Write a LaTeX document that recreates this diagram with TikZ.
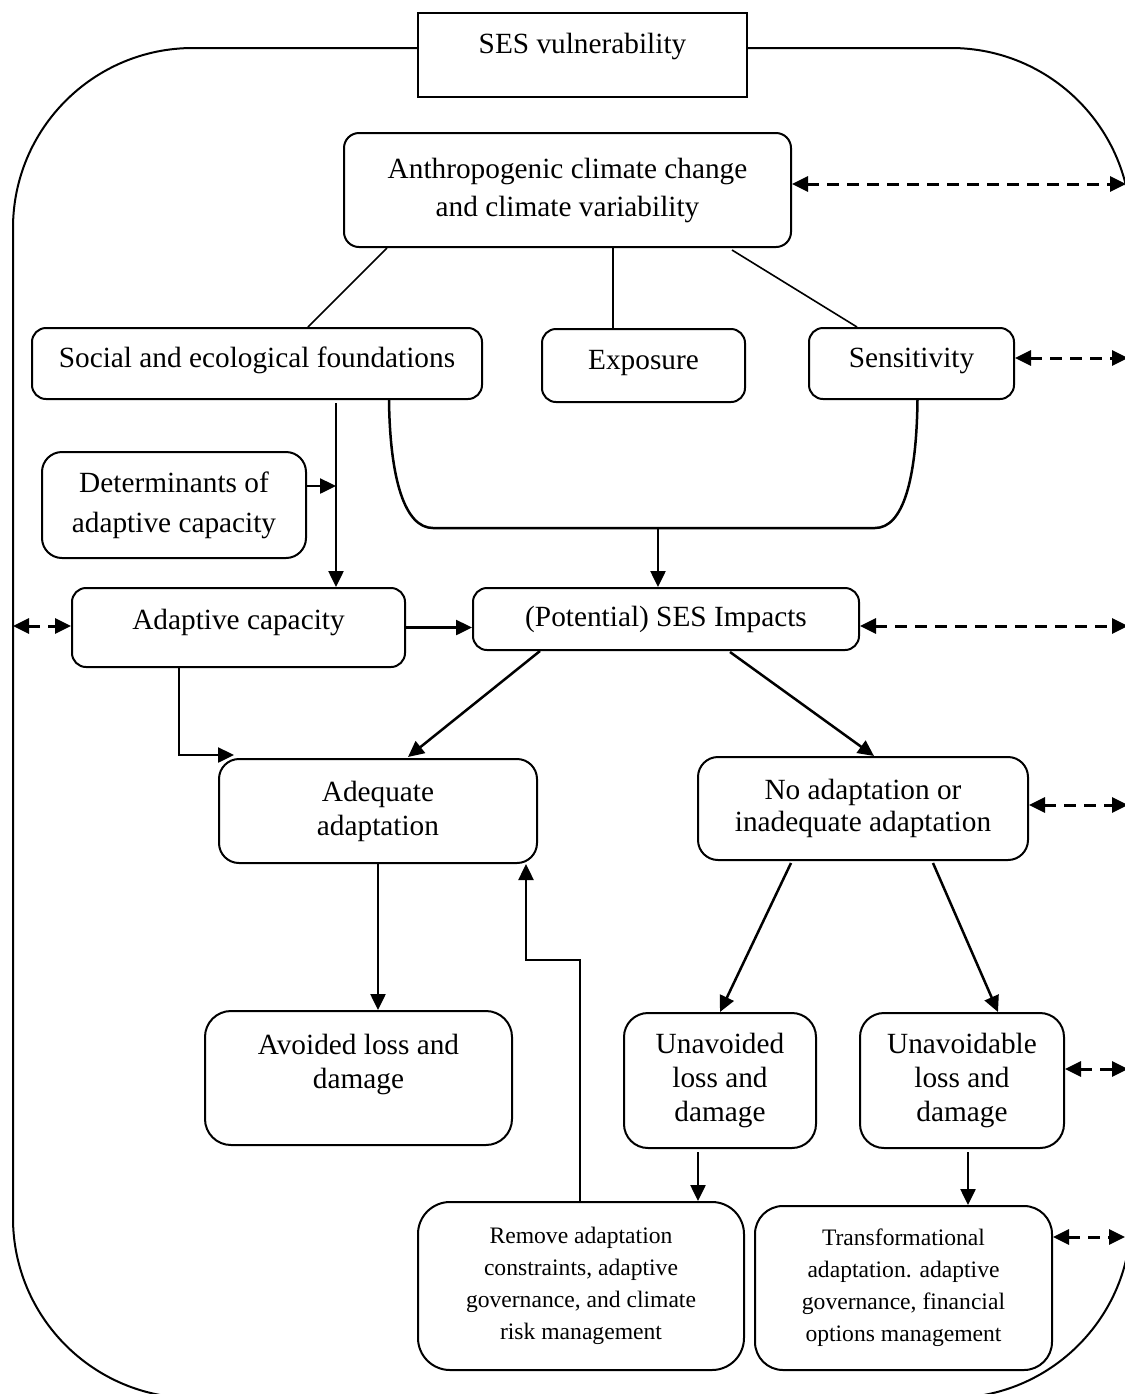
\documentclass[tikz,border=0pt]{standalone}
\usepackage{fontspec}
\setmainfont{Liberation Serif}
\usetikzlibrary{arrows.meta,calc}

\newcommand\boxfont{\fontsize{14.65pt}{17pt}\selectfont}
\newcommand\notefont{\fontsize{11.8pt}{16pt}\selectfont}

\tikzset{
  box/.style={draw, line width=1pt, rounded corners=#1, inner sep=0pt,
              align=center, font=\boxfont},
  box/.default=7pt,
  sz/.style 2 args={minimum width=#1*0.5pt, minimum height=#2*0.5pt},
  tip/.tip={Triangle[length=8pt,width=7.5pt]},
  arr/.style={line width=1.25pt, -tip},
  dasharr/.style={line width=1.5pt, dash pattern=on 6pt off 4pt, tip-tip},
  link/.style={line width=0.8pt},
  frame/.style={line width=1pt, rounded corners=90pt}
}

\begin{document}
\begin{tikzpicture}[x=0.5pt, y=-0.5pt]
\useasboundingbox (0,0) rectangle (1125,1394);
\clip (0,0) rectangle (1125,1394);

% outer system boundary
\draw[frame] (13,48) rectangle (1131,1398);

% boxes
\node[box=0pt, fill=white, sz={329}{84}, text depth=12pt] (ses) at (582.5,55) {SES vulnerability};
\node[box=7.5pt, sz={447}{114}] (acc) at (567.5,190) {Anthropogenic climate change\\[2pt]and climate variability};
\node[box, sz={450}{71}, text depth=6pt] (sef) at (257,363.5) {Social and ecological foundations};
\node[box, sz={203}{73}, text depth=6pt] (exp) at (643.5,365.5) {Exposure};
\node[box, sz={205}{71}, text depth=6pt] (sen) at (911.5,363.5) {Sensitivity};
\node[box=10pt, sz={264}{106}] (det) at (174,505) {Determinants of\\[3pt]adaptive capacity};
\node[box, sz={333}{79}, text depth=8pt] (adc) at (238.5,627.5) {Adaptive capacity};
\node[box, sz={386}{62}] (imp) at (666,619) {(Potential) SES Impacts};
\node[box=10pt, sz={318}{104}] (ada) at (378,811) {Adequate\\adaptation};
\node[box=10pt, sz={330}{103}] (noa) at (863,808.5) {No adaptation or\\[-1pt]inadequate adaptation};
\node[box=13pt, sz={307}{134}, text depth=17pt] (avo) at (358.5,1078) {Avoided loss and\\damage};
\node[box=12pt, sz={192}{135}] (una) at (720,1080.5) {Unavoided\\loss and\\damage};
\node[box=12pt, sz={204}{135}] (unb) at (962,1080.5) {Unavoidable\\loss and\\damage};
\node[box=16pt, sz={326}{168}, font=\notefont] (rem) at (581,1286) {Remove adaptation\\constraints, adaptive\\governance, and climate\\risk management};
\node[box=14pt, sz={297}{164}, font=\notefont] (tra) at (903.5,1288) {Transformational\\adaptation. adaptive\\governance, financial\\options management};

% climate drivers branching into the three components
\draw[link] ($(acc.south)+(-180.5,0)$) -- ($(sef.north)+(51,0)$);
\draw[link] ($(acc.south)+(45.5,0)$) coordinate (m1) -- (m1 |- exp.north);
\draw[link] ($(acc.south)+(164.5,2)$) -- ($(sen.north)+(-54.5,0)$);

% foundations and determinants feeding adaptive capacity
\draw[arr] ($(sef.south)+(79,3)$) coordinate (v1) -- (v1 |- adc.north);
\draw[arr] ($(det.east)+(0,-19)$) coordinate (d1) -- (d1 -| v1);

% foundations and sensitivity combining into impacts
\coordinate (uL) at (433,528);
\coordinate (uR) at (875,528);
\coordinate (ub) at (658,528);
\draw[line width=1.25pt] ($(sef.south)+(132,0)$) .. controls +(1,80) and +(-28,0) .. (uL)
  -- (uR) .. controls +(28,0) and +(-1,80) .. ($(sen.south)+(6,0)$);
\draw[arr] (ub) -- (ub |- imp.north);

\draw[arr] (adc.east) -- (adc.east -| imp.west);
\draw[arr] ($(adc.south)+(-59.5,0)$) |- ($(ada.north west)+(16,-3)$);
\draw[arr] ($(imp.south)+(-126,0)$) -- ($(ada.north)+(30,-1)$);
\draw[arr] ($(imp.south)+(64,1)$) -- ($(noa.north)+(11,0)$);
\draw[arr] (ada.south) -- (ada.south |- avo.north);
\draw[arr] ($(noa.south)+(-72,2)$) -- (una.north);
\draw[arr] ($(noa.south)+(70,2)$) -- ($(unb.north)+(36,0)$);
\draw[arr] ($(una.south)+(-22,3)$) coordinate (v2) -- (v2 |- rem.north);
\draw[arr] ($(unb.south)+(6,3)$) coordinate (v3) -- (v3 |- tra.north);

% feedback from constraint removal to adequate adaptation
\coordinate (fb) at (526,960);
\draw[arr] ($(rem.north)+(-1,0)$) |- (fb) -- (fb |- ada.south);

% two-way links to the system boundary
\coordinate (e1) at (1126,184);
\coordinate (e2) at (1128,358);
\coordinate (e3) at (1128,626);
\coordinate (e4) at (1128,805);
\coordinate (e5) at (1128,1069);
\coordinate (e6) at (1125,1237);
\coordinate (w1) at (13,626);
\draw[dasharr] (acc.east |- e1) -- (e1);
\draw[dasharr] (sen.east |- e2) -- (e2);
\draw[dasharr] (imp.east |- e3) -- (e3);
\draw[dasharr] (noa.east |- e4) -- (e4);
\draw[dasharr] (unb.east |- e5) -- (e5);
\draw[dasharr] (tra.east |- e6) -- (e6);
\draw[dasharr] (w1) -- (w1 -| adc.west);
\end{tikzpicture}
\end{document}
